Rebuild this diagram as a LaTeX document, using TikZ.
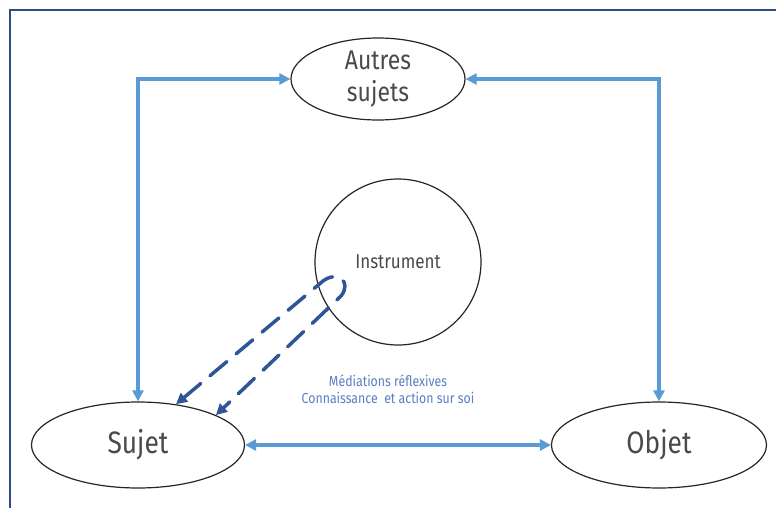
\documentclass[tikz,border=0pt]{standalone}
\usepackage{fontspec}
\setmainfont{Fira Sans}[FakeStretch=0.85]
\usetikzlibrary{shapes.geometric,arrows.meta}
\definecolor{framec}{HTML}{2F4A85}
\definecolor{lblue}{HTML}{5B9BD5}
\definecolor{dblue}{HTML}{2E5597}
\definecolor{txtc}{HTML}{4A4A4A}
\definecolor{medc}{HTML}{5A7FC2}
\tikzset{
  ell/.style={ellipse, draw=black!85, line width=1.2pt, inner sep=0pt, text=txtc},
  barrow/.style={draw=lblue, line width=3.5pt, {Triangle[length=11pt,width=11pt]}-{Triangle[length=11pt,width=11pt]}},
  dasharrow/.style={draw=dblue, line width=3.5pt, dash pattern=on 22pt off 12pt, line cap=round,
    {Triangle[length=11pt,width=11pt]}-{Triangle[length=11pt,width=11pt]}},
  medtext/.style={text=medc, font=\fontsize{14.5}{17}\selectfont, align=center}
}
\begin{document}
\begin{tikzpicture}[x=1pt,y=-1pt]
\useasboundingbox (0,0) rectangle (776,508);
\fill[white] (0,0) rectangle (776,508);
\draw[framec, line width=2.5pt] (10,520) -- (10,10) -- (790,10);
\node[ell, minimum width=174pt, minimum height=82pt, align=center,
  font=\fontsize{27}{32}\selectfont] (autres) at (378,79) {Autres\\sujets};
\node[circle, draw=black!85, line width=1.2pt, minimum size=166pt, inner sep=0pt] (instr) at (398,262) {};
\node[text=txtc, font=\fontsize{20}{24}\selectfont] (instrlbl) at (398,262) {Instrument};
\node[ell, minimum width=213pt, minimum height=86pt,
  font=\fontsize{31}{36}\selectfont] (sujet) at (138,445) {Sujet};
\node[ell, minimum width=215pt, minimum height=86pt,
  font=\fontsize{31}{36}\selectfont] (objet) at (659,445) {Objet};
\node[medtext] (med) at (388,389) {Médiations réflexives\\Connaissance \ et action sur soi};
\draw[barrow] (autres.west) -| (sujet.north);
\draw[barrow] (autres.east) -| (objet.north);
\draw[barrow] (sujet.east) -- (objet.west);
\coordinate (h1) at (323,281);
\coordinate (h2) at (341,296);
\draw[dasharrow] (sujet.47) -- (h1) .. controls (338,270) and (352,282) .. (h2) -- (sujet.21);
\end{tikzpicture}
\end{document}
